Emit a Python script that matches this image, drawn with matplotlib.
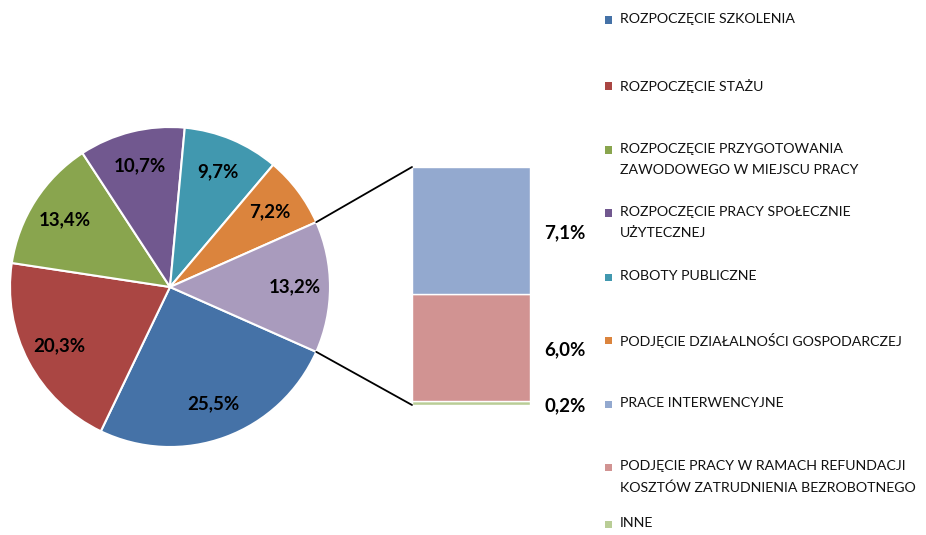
import matplotlib
matplotlib.use("Agg")
import matplotlib.pyplot as plt
from matplotlib.patches import ConnectionPatch, Rectangle
import math

# ---- data ----
pie_categories = ["ROZPOCZĘCIE SZKOLENIA", "ROZPOCZĘCIE STAŻU",
                  "ROZPOCZĘCIE PRZYGOTOWANIA\nZAWODOWEGO W MIEJSCU PRACY",
                  "ROZPOCZĘCIE PRACY SPOŁECZNIE\nUŻYTECZNEJ", "ROBOTY PUBLICZNE",
                  "PODJĘCIE DZIAŁALNOŚCI GOSPODARCZEJ"]
pie_values = [25.5, 20.3, 13.4, 10.7, 9.7, 7.2]
other_label = "13,2%"
bar_categories = ["PRACE INTERWENCYJNE",
                  "PODJĘCIE PRACY W RAMACH REFUNDACJI\nKOSZTÓW ZATRUDNIENIA BEZROBOTNEGO",
                  "INNE"]
bar_values = [7.1, 6.0, 0.2]
pie_labels = ["25,5%", "20,3%", "13,4%", "10,7%", "9,7%", "7,2%"]
bar_labels = ["7,1%", "6,0%", "0,2%"]

pie_colors = ["#4572A7", "#AA4643", "#89A54E", "#71588F", "#4198AF", "#DB843D"]
other_color = "#A99BBD"
bar_colors = ["#93A9CF", "#D19392", "#B9CD96"]

FONT = "Lato"
W, H = 926, 535
fig = plt.figure(figsize=(W / 100, H / 100), dpi=100)

def fx(px):
    return px / W

def fy(py):
    return 1 - py / H

# ---- pie ----
ax_pie = fig.add_axes([fx(10), fy(447), 320 / W, 320 / H])
other_total = sum(bar_values)
vals = pie_values + [other_total]
total = sum(vals)
start = -(other_total / total) * 360 / 2
wedges, texts = ax_pie.pie(vals, colors=pie_colors + [other_color],
                           labels=pie_labels + [other_label], labeldistance=0.78,
                           startangle=start, counterclock=False,
                           wedgeprops=dict(edgecolor="white", linewidth=1.5))
for t in texts:
    t.set_ha("center")
    t.set_va("center")
    t.set_fontsize(13.5)
    t.set_fontweight("bold")
    t.set_family(FONT)
    t.set_color("black")
ax_pie.set_xlim(-1, 1)
ax_pie.set_ylim(-1, 1)
ax_pie.set_aspect("equal")
ax_pie.axis("off")

# ---- bar ----
ax_bar = fig.add_axes([fx(412), fy(405), 118 / W, 238 / H])
bottom = 0
order = [2, 1, 0]  # INNE at bottom, then refundacja, then interwencyjne
for i in order:
    ax_bar.bar(0, bar_values[i], width=1, bottom=bottom, color=bar_colors[i],
               edgecolor="white", linewidth=1)
    yc = bottom + bar_values[i] / 2
    ax_bar.annotate(bar_labels[i], xy=(0.5, yc), xytext=(10.5, -1.5),
                    textcoords="offset points", ha="left", va="center",
                    fontsize=13.5, fontweight="bold", family=FONT)
    bottom += bar_values[i]
ax_bar.set_xlim(-0.5, 0.5)
ax_bar.set_ylim(0, bottom)
ax_bar.axis("off")

# ---- connector lines ----
th1 = math.radians(-start)
th2 = math.radians(start)
for th, ytarget in [(th1, bottom), (th2, 0)]:
    con = ConnectionPatch(xyA=(math.cos(th), math.sin(th)), coordsA=ax_pie.transData,
                          xyB=(-0.5, ytarget), coordsB=ax_bar.transData,
                          color="black", linewidth=1.3)
    fig.add_artist(con)

# ---- legend (manual) ----
leg_names = pie_categories + bar_categories
leg_colors = pie_colors + bar_colors
leg_y = [20, 86, 150, 213, 277, 340, 404, 467, 524]
for name, col, y in zip(leg_names, leg_colors, leg_y):
    fig.add_artist(Rectangle((fx(605), fy(y + 3.5)), 7 / W, 7 / H,
                             transform=fig.transFigure, facecolor=col, edgecolor="none"))
    fig.text(fx(620), fy(y - 7), name, ha="left", va="top", fontsize=10.2,
             family=FONT, linespacing=1.92, color="#111111")

fig.savefig("out.png", dpi=100, facecolor="white")
